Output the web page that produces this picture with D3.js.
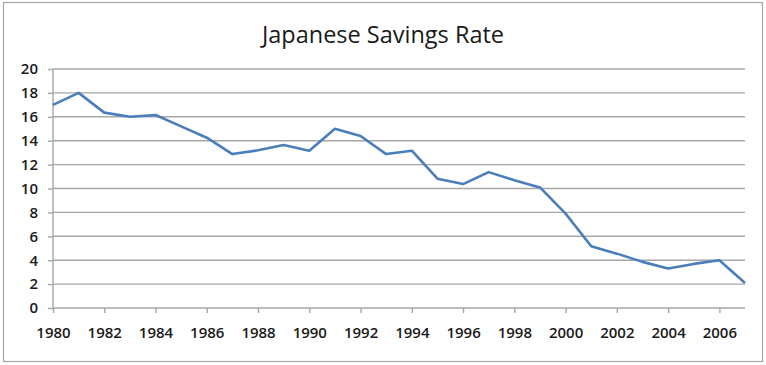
<!DOCTYPE html>
<html><head><meta charset="utf-8">
<script src="https://cdn.jsdelivr.net/npm/d3@7/dist/d3.min.js"></script>
<style>
html,body{margin:0;padding:0;background:#fff;}
svg{display:block;}
</style></head>
<body>
<svg id="chart" width="766" height="365"></svg>
<script>
const title = "Japanese Savings Rate";
const years = [1980,1981,1982,1983,1984,1985,1986,1987,1988,1989,1990,1991,1992,1993,1994,1995,1996,1997,1998,1999,2000,2001,2002,2003,2004,2005,2006,2007];
const savingsRate = [17.0,18.0,16.35,16.0,16.15,15.2,14.25,12.88,13.2,13.64,13.16,15.0,14.39,12.88,13.16,10.82,10.37,11.37,10.7,10.09,7.9,5.17,4.55,3.86,3.3,3.69,4.0,2.1];
const yTicks = [0,2,4,6,8,10,12,14,16,18,20];
const xTicks = [1980,1982,1984,1986,1988,1990,1992,1994,1996,1998,2000,2002,2004,2006];

const svg = d3.select("#chart");
const W = 766, H = 365;
const m = {left:53, right:21, top:69, bottom:57};

svg.append("rect").attr("x",3.5).attr("y",2.5).attr("width",759).attr("height",359)
  .attr("fill","#fff").attr("stroke","#a6a6a6").attr("stroke-width",1.2);

const x = d3.scaleLinear().domain([1980,2007]).range([m.left, W - m.right]);
const y = d3.scaleLinear().domain([0,20]).range([H - m.bottom, m.top]);

// gridlines
svg.append("g").selectAll("line").data(yTicks.filter(d=>d>0)).join("line")
  .attr("x1", m.left).attr("x2", W - m.right)
  .attr("y1", d=>y(d)).attr("y2", d=>y(d))
  .attr("stroke","#a6a6a6").attr("stroke-width",1.4);

const font = "'Open Sans', sans-serif";

// y axis
const yAxis = svg.append("g").attr("transform",`translate(${m.left},0)`)
  .call(d3.axisLeft(y).tickValues(yTicks).tickSize(5).tickPadding(10).tickFormat(d3.format("d")));
yAxis.select(".domain").attr("stroke","#a6a6a6").attr("stroke-width",1.4).attr("d",`M0,${y(20)}V${y(0)}`);
yAxis.selectAll(".tick line").attr("stroke","#a6a6a6").attr("stroke-width",1.4);
yAxis.selectAll("text").attr("font-family",font).attr("font-weight",600).attr("font-size",15).attr("fill","#1a1a1a");

// x axis
const xAxis = svg.append("g").attr("transform",`translate(0,${y(0)})`)
  .call(d3.axisBottom(x).tickValues(xTicks).tickSize(5).tickPadding(14).tickFormat(d3.format("d")));
xAxis.select(".domain").attr("stroke","#a6a6a6").attr("stroke-width",1.4).attr("d",`M${m.left},0H${W-m.right}`);
xAxis.selectAll(".tick line").attr("stroke","#a6a6a6").attr("stroke-width",1.4);
xAxis.selectAll("text").attr("font-family",font).attr("font-weight",600).attr("font-size",15).attr("fill","#1a1a1a");

// line
const line = d3.line().x((d,i)=>x(years[i])).y(d=>y(d));
svg.append("path").datum(savingsRate).attr("d",line)
  .attr("fill","none").attr("stroke","#4a7ebb").attr("stroke-width",2.6).attr("stroke-linejoin","round");

// title
svg.append("text").attr("x",383).attr("y",43).attr("text-anchor","middle")
  .attr("font-family",font).attr("font-size",23.5).attr("fill","#1a1a1a").text(title);
</script>
</body></html>
